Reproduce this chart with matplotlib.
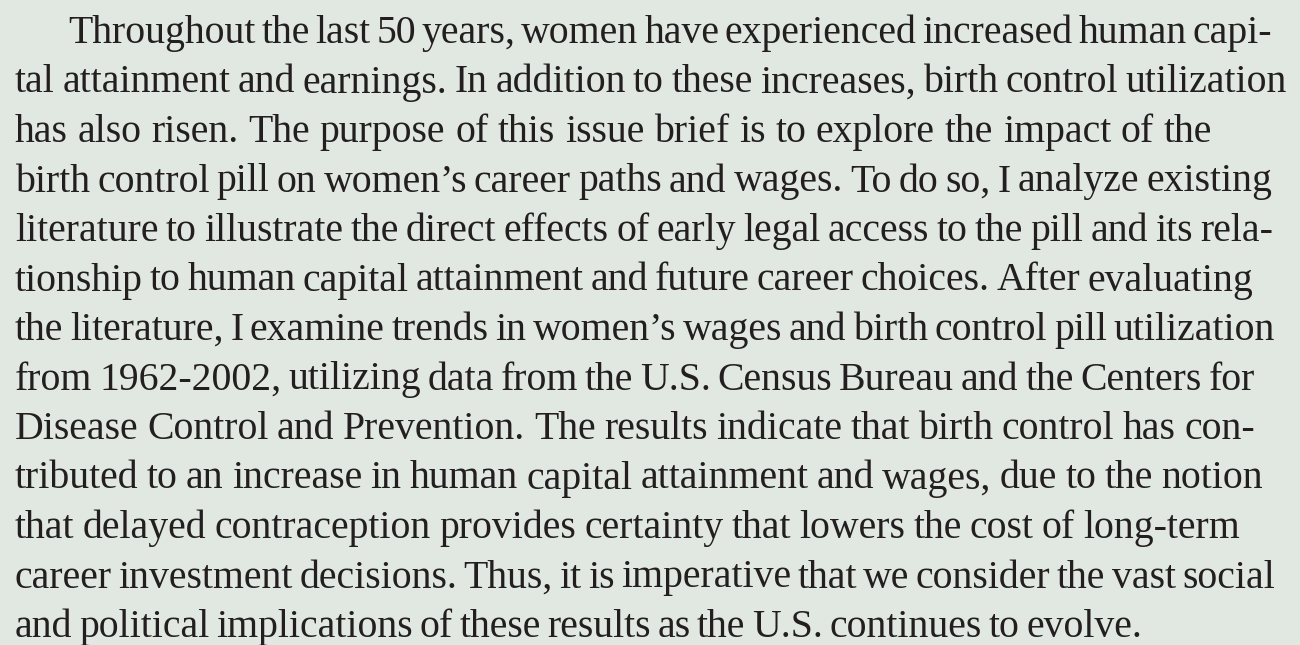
import matplotlib
matplotlib.use("Agg")
import matplotlib.pyplot as plt
import statistics

# Text content (one entry per printed line)
lines = [
    "Throughout the last 50 years, women have experienced increased human capi-",
    "tal attainment and earnings. In addition to these increases, birth control utilization",
    "has also risen. The purpose of this issue brief is to explore the impact of the",
    "birth control pill on women\u2019s career paths and wages. To do so, I analyze existing",
    "literature to illustrate the direct effects of early legal access to the pill and its rela-",
    "tionship to human capital attainment and future career choices. After evaluating",
    "the literature, I examine trends in women\u2019s wages and birth control pill utilization",
    "from 1962-2002, utilizing data from the U.S. Census Bureau and the Centers for",
    "Disease Control and Prevention. The results indicate that birth control has con-",
    "tributed to an increase in human capital attainment and wages, due to the notion",
    "that delayed contraception provides certainty that lowers the cost of long-term",
    "career investment decisions. Thus, it is imperative that we consider the vast social",
    "and political implications of these results as the U.S. continues to evolve.",
]

# Layout (pixels)
W, H = 1300, 645
left_x = 15
indent_x = 68
first_baseline = 43
line_gap = 49.5
right_ends = [1272, 1287, 1212, 1272, 1273, 1253, 1275, 1255, 1255, 1263, 1240, 1275, 1142]
word_gap_ref = 7.0

bg = "#E1E8E1"
fg = "#231F20"
base_size = 30
family = "Liberation Serif"

fig = plt.figure(figsize=(W / 100, H / 100), dpi=100)
fig.patch.set_facecolor(bg)
renderer = fig.canvas.get_renderer()

def px(x, y):
    return x / W, 1 - y / H

# measure at base size to choose a common font size
scales = []
for i, line in enumerate(lines):
    words = line.split(" ")
    x0 = indent_x if i == 0 else left_x
    tot = 0
    for w in words:
        t = fig.text(0, 0, w, fontsize=base_size, family=family)
        tot += t.get_window_extent(renderer).width
        t.remove()
    scales.append((right_ends[i] - x0 - (len(words) - 1) * word_gap_ref) / tot)
fontsize = base_size * statistics.median(scales)

for i, line in enumerate(lines):
    words = line.split(" ")
    y = first_baseline + i * line_gap
    x0 = indent_x if i == 0 else left_x
    x1 = right_ends[i]
    texts = []
    widths = []
    for w in words:
        t = fig.text(0, 0, w, fontsize=fontsize, family=family,
                     color=fg, ha="left", va="baseline")
        widths.append(t.get_window_extent(renderer).width)
        texts.append(t)
    gap = (x1 - x0 - sum(widths)) / max(len(words) - 1, 1)
    x = x0
    for t, wd in zip(texts, widths):
        t.set_position(px(x, y))
        x += wd + gap

fig.savefig("out.png", dpi=100, facecolor=bg)
